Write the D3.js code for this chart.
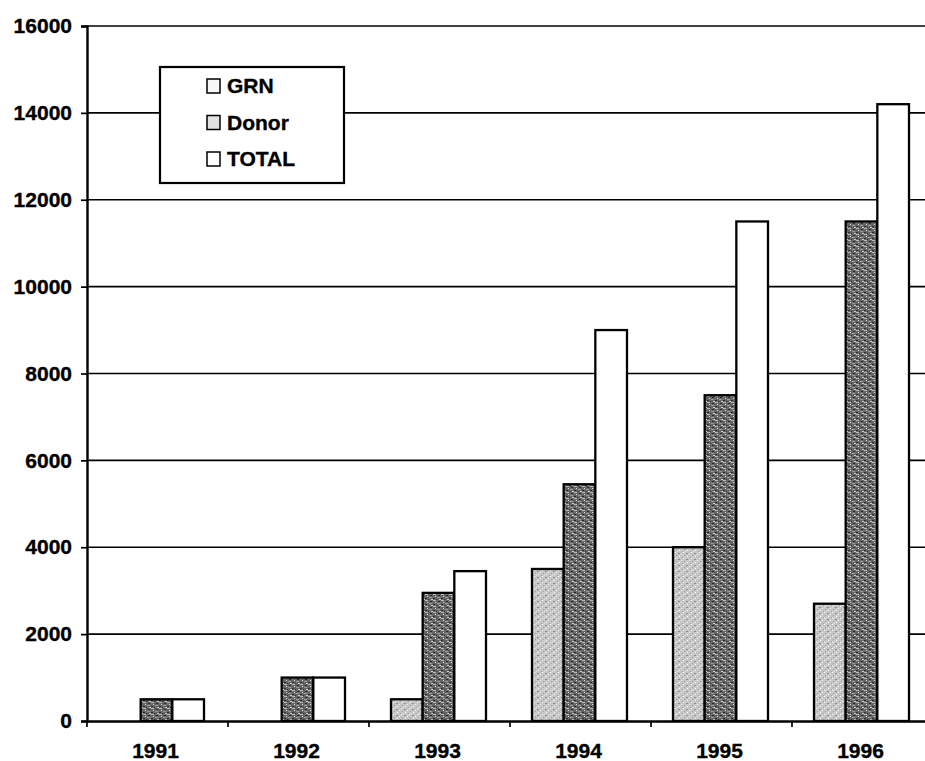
<!DOCTYPE html>
<html>
<head>
<meta charset="utf-8">
<script src="https://cdn.jsdelivr.net/npm/d3@7"></script>
<style>
  html, body { margin: 0; padding: 0; background: #fff; }
  svg { display: block; }
  text { font-family: "Liberation Sans", Arial, sans-serif; font-weight: bold; fill: #000; stroke: #000; stroke-width: 0.35px; }
</style>
</head>
<body>
<svg id="chart" width="925" height="761"></svg>
<script>
// ---- data ----
const years = ["1991", "1992", "1993", "1994", "1995", "1996"];
const seriesNames = ["GRN", "Donor", "TOTAL"];
const grn   = [0, 0, 500, 3500, 4000, 2700];
const donor = [500, 1000, 2950, 5450, 7500, 11500];
const total = [500, 1000, 3450, 9000, 11500, 14200];
const yTicks = [0, 2000, 4000, 6000, 8000, 10000, 12000, 14000, 16000];

const seriesValues = [grn, donor, total];

const svg = d3.select("#chart");
const W = 925, H = 761;
const x0Px = 87, y0Px = 721, yTopPx = 26;
const bandW = 141;

// patterns (stipple textures)
const defs = svg.append("defs");
function stipple(id, base, dots) {
  const p = defs.append("pattern").attr("id", id).attr("patternUnits", "userSpaceOnUse")
    .attr("width", 8).attr("height", 6);
  p.append("rect").attr("width", 8).attr("height", 6).attr("fill", base);
  dots.forEach(d => p.append("rect").attr("x", d[0]).attr("y", d[1]).attr("width", d[2]).attr("height", 1).attr("fill", d[3]));
}
stipple("pGRN", "#c6c6c6", [[0,0,1,"#ffffff"],[3,1,2,"#909090"],[6,2,1,"#f0f0f0"],[1,3,1,"#a0a0a0"],[4,4,1,"#ffffff"],[7,5,1,"#a4a4a4"],[2,5,1,"#e8e8e8"]]);
stipple("pDonor", "#666666", [[0,0,3,"#b8b8b8"],[5,1,2,"#2a2a2a"],[2,2,1,"#dcdcdc"],[4,3,3,"#9a9a9a"],[0,4,2,"#303030"],[6,5,2,"#c8c8c8"],[3,5,1,"#383838"]]);
const fills = ["url(#pGRN)", "url(#pDonor)", "#ffffff"];

// scales
const x = d3.scaleBand().domain(years).range([x0Px, x0Px + bandW * years.length]).padding(0);
const xs = d3.scaleBand().domain(seriesNames).range([22, 117]).padding(0);
const y = d3.scaleLinear().domain([0, 16000]).range([y0Px, yTopPx]);

// gridlines
svg.append("g").selectAll("line").data(yTicks.filter(d => d > 0)).join("line")
  .attr("x1", x0Px).attr("x2", W)
  .attr("y1", d => y(d)).attr("y2", d => y(d))
  .attr("stroke", "#000").attr("stroke-width", 1.7);

// y axis
const yAxis = d3.axisLeft(y).tickValues(yTicks).tickSize(6).tickPadding(9).tickFormat(d3.format("d"));
const gy = svg.append("g").attr("transform", `translate(${x0Px},0)`).call(yAxis);
gy.select(".domain").attr("stroke", "#000").attr("stroke-width", 2.4);
gy.selectAll(".tick line").attr("stroke", "#000").attr("stroke-width", 1.7);
gy.selectAll(".tick text").attr("font-size", 21).attr("font-family", "Liberation Sans, Arial, sans-serif")
  .attr("font-weight", "bold").attr("fill", "#000");

// bars
const groups = svg.append("g").selectAll("g").data(years).join("g")
  .attr("transform", d => `translate(${x(d)},0)`);
groups.each(function(yr, i) {
  const g = d3.select(this);
  seriesNames.forEach((s, j) => {
    const v = seriesValues[j][i];
    if (v <= 0) return;
    g.append("rect")
      .attr("x", xs(s)).attr("width", xs.bandwidth())
      .attr("y", y(v)).attr("height", y(0) - y(v))
      .attr("fill", fills[j]).attr("stroke", "#000").attr("stroke-width", 2.3);
  });
});

// x axis
const xAxis = d3.axisBottom(x).tickSize(0).tickPadding(22);
const gx = svg.append("g").attr("transform", `translate(0,${y0Px})`).call(xAxis);
gx.select(".domain").attr("stroke", "#000").attr("stroke-width", 2.4);
gx.selectAll(".tick text").attr("font-size", 21).attr("font-family", "Liberation Sans, Arial, sans-serif")
  .attr("font-weight", "bold").attr("fill", "#000").attr("dx", -2);
// category boundary tick marks
svg.append("g").selectAll("line").data(years).join("line")
  .attr("x1", d => x(d)).attr("x2", d => x(d))
  .attr("y1", y0Px).attr("y2", y0Px + 6)
  .attr("stroke", "#000").attr("stroke-width", 1.7);

// legend
const lg = svg.append("g");
lg.append("rect").attr("x", 160).attr("y", 67).attr("width", 184).attr("height", 116)
  .attr("fill", "#fff").attr("stroke", "#000").attr("stroke-width", 2.2);
const swatchFill = ["#f7f7f7", "#e2e2e2", "#ffffff"];
seriesNames.forEach((s, j) => {
  const yy = 79 + j * 36.5;
  lg.append("rect").attr("x", 207).attr("y", yy).attr("width", 13).attr("height", 14)
    .attr("fill", swatchFill[j]).attr("stroke", "#000").attr("stroke-width", 1.5);
  lg.append("text").attr("x", 227).attr("y", yy + 14).attr("font-size", 21).text(s);
});
</script>
</body>
</html>
